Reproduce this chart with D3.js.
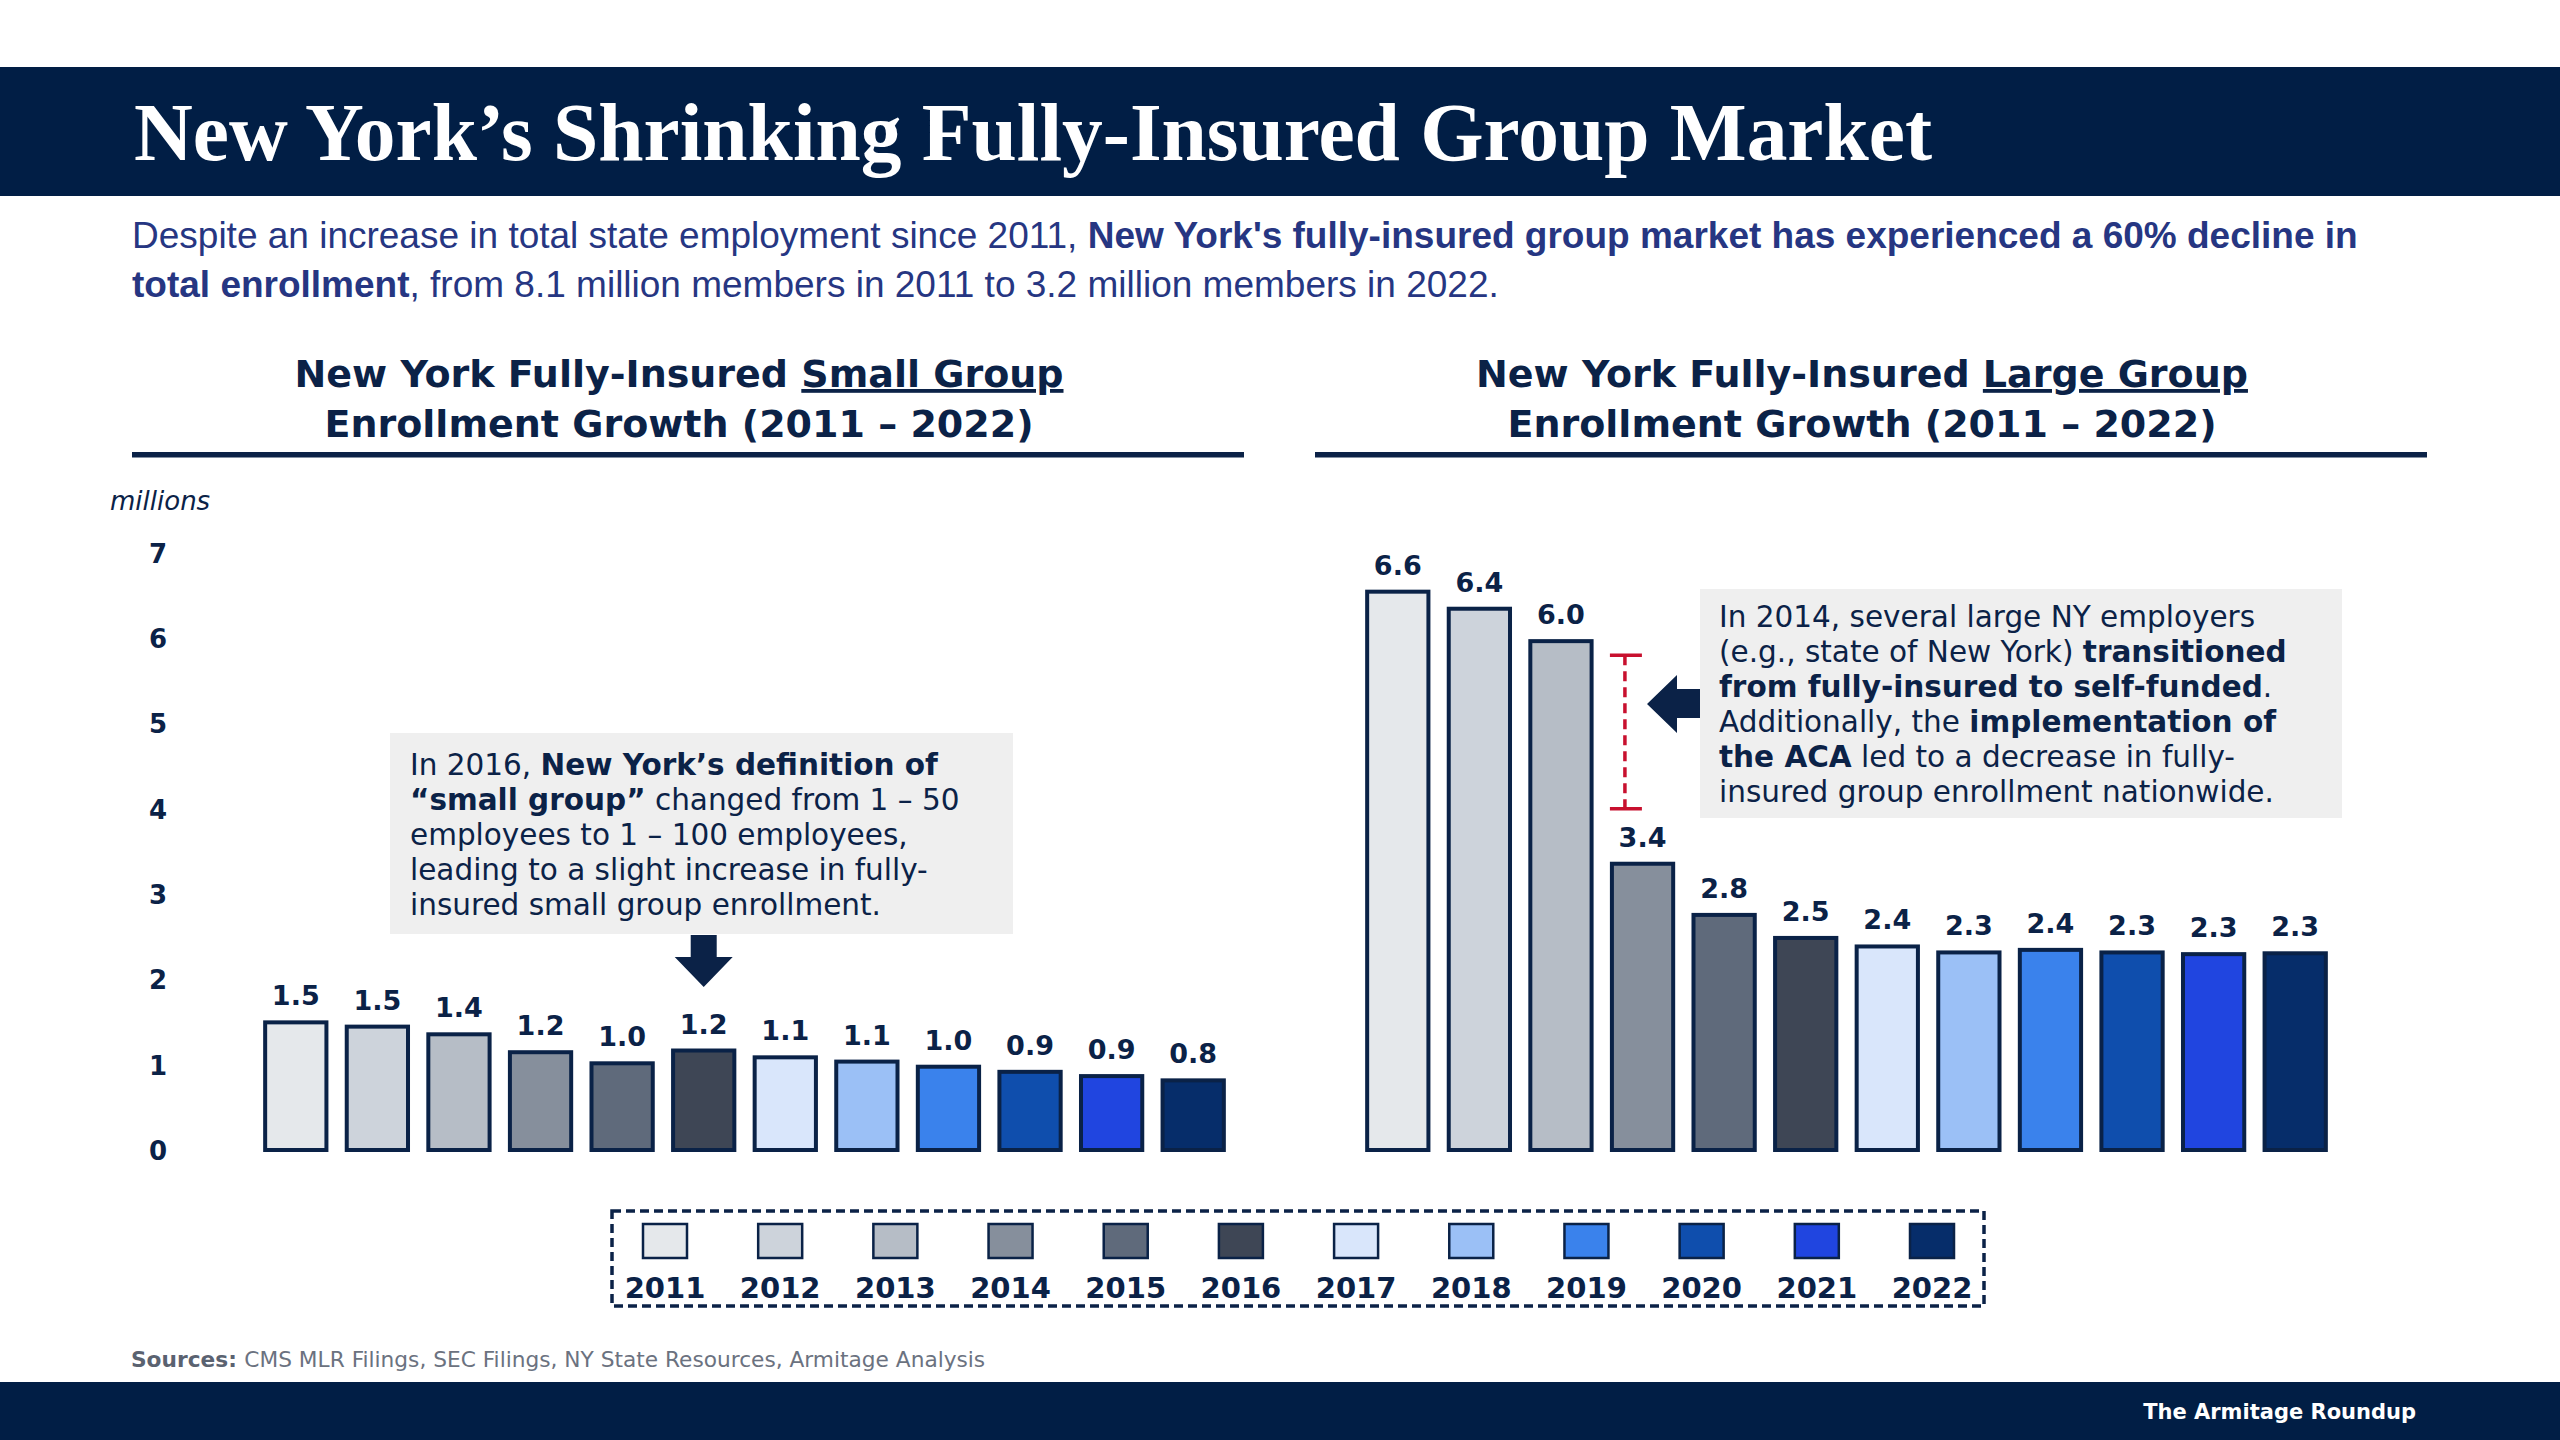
<!DOCTYPE html>
<html>
<head>
<meta charset="utf-8">
<script src="https://cdn.jsdelivr.net/npm/d3@7/dist/d3.min.js"></script>
<style>
  html, body { margin: 0; padding: 0; background: #ffffff; }
  svg { display: block; }
</style>
</head>
<body>
<script>
// ---------- DATA ----------
const years = ["2011","2012","2013","2014","2015","2016","2017","2018","2019","2020","2021","2022"];
const smallGroup = [1.52, 1.47, 1.38, 1.17, 1.04, 1.19, 1.11, 1.06, 1.00, 0.94, 0.89, 0.84];
const largeGroup = [6.57, 6.37, 5.99, 3.38, 2.78, 2.51, 2.41, 2.34, 2.37, 2.34, 2.32, 2.33];
const yTicks = [0, 1, 2, 3, 4, 5, 6, 7];
const palette = ["#e5e8eb","#cdd3db","#b6bdc6","#868f9c","#5f6a7b","#3e4655",
                 "#d9e6fb","#9bc0f6","#3a82ec","#0f4ead","#2045e0","#062d6a"];

const W = 2560, H = 1440;
const NAVY = "#011e45";
const INK = "#0b2247";
const SANS = "'DejaVu Sans', Verdana, sans-serif";

const svg = d3.select("body").append("svg").attr("width", W).attr("height", H)
  .attr("viewBox", `0 0 ${W} ${H}`);

svg.append("rect").attr("width", W).attr("height", H).attr("fill", "#ffffff");

// ---------- HEADER ----------
svg.append("rect").attr("x", 0).attr("y", 67).attr("width", W).attr("height", 129).attr("fill", NAVY);
svg.append("text")
  .attr("x", 134).attr("y", 160)
  .attr("fill", "#ffffff")
  .attr("font-family", "'Liberation Serif', 'DejaVu Serif', serif")
  .attr("font-weight", "bold")
  .attr("font-size", 82)
  .attr("textLength", 1798).attr("lengthAdjust", "spacingAndGlyphs")
  .text("New York’s Shrinking Fully-Insured Group Market");

// subtitle
const subColor = "#263682";
const sub = svg.append("g").attr("font-family", "'Liberation Sans', Arial, sans-serif")
  .attr("font-size", 37).attr("fill", subColor);
const s1 = sub.append("text").attr("x", 132).attr("y", 248);
s1.append("tspan").text("Despite an increase in total state employment since 2011, ");
s1.append("tspan").attr("font-weight", "bold").text("New York's fully-insured group market has experienced a 60% decline in");
const s2 = sub.append("text").attr("x", 132).attr("y", 297);
s2.append("tspan").attr("font-weight", "bold").text("total enrollment");
s2.append("tspan").text(", from 8.1 million members in 2011 to 3.2 million members in 2022.");

// ---------- PANEL HEADINGS ----------
function heading(cx, word, x0, x1) {
  const g = svg.append("g").attr("font-family", SANS).attr("font-weight", "bold")
    .attr("font-size", 38).attr("fill", INK).attr("text-anchor", "middle");
  const t1 = g.append("text").attr("x", cx).attr("y", 387);
  t1.append("tspan").text("New York Fully-Insured ");
  t1.append("tspan").attr("text-decoration", "underline").text(word + " Group");
  g.append("text").attr("x", cx).attr("y", 437).text("Enrollment Growth (2011 – 2022)");
  svg.append("rect").attr("x", x0).attr("y", 452).attr("width", x1 - x0).attr("height", 5.5).attr("fill", INK);
}
heading(679, "Small", 132, 1244);
heading(1862, "Large", 1315, 2427);

// ---------- SCALES ----------
const y = d3.scaleLinear().domain([0, 7]).range([1150, 553]);
const xL = d3.scaleBand().domain(years).range([255, 1234]).paddingInner(0.2).paddingOuter(0.1);
const xR = d3.scaleBand().domain(years).range([1357, 2336]).paddingInner(0.2).paddingOuter(0.1);
const color = d3.scaleOrdinal().domain(years).range(palette);

// y axis
const yAxis = svg.append("g").attr("transform", "translate(167,0)")
  .call(d3.axisLeft(y).tickValues(yTicks).tickSize(0).tickPadding(0).tickFormat(d3.format("d")));
yAxis.select(".domain").remove();
yAxis.selectAll("text").attr("font-family", SANS).attr("font-weight", "bold")
  .attr("font-size", 26).attr("fill", INK).attr("dy", "0.36em");

svg.append("text").attr("x", 110).attr("y", 510)
  .attr("font-family", SANS).attr("font-style", "italic").attr("font-size", 26)
  .attr("fill", INK).text("millions");

// ---------- BARS ----------
function bars(xs, values) {
  const data = years.map((yr, i) => ({ yr, v: values[i] }));
  const g = svg.append("g");
  g.selectAll("rect").data(data).join("rect")
    .attr("x", d => xs(d.yr) + 2)
    .attr("y", d => y(d.v) + 2)
    .attr("width", xs.bandwidth() - 4)
    .attr("height", d => y(0) - y(d.v) - 2)
    .attr("fill", d => color(d.yr))
    .attr("stroke", "#0a2247").attr("stroke-width", 4);
  g.selectAll("text").data(data).join("text")
    .attr("x", d => xs(d.yr) + xs.bandwidth() / 2)
    .attr("y", d => y(d.v) - 15)
    .attr("text-anchor", "middle")
    .attr("font-family", SANS).attr("font-weight", "bold").attr("font-size", 27)
    .attr("fill", INK)
    .text(d => d.v.toFixed(1));
}
bars(xL, smallGroup);
bars(xR, largeGroup);

// ---------- ANNOTATIONS ----------
function note(x, yTop, w, h, lines, tx, ty0) {
  svg.append("rect").attr("x", x).attr("y", yTop).attr("width", w).attr("height", h).attr("fill", "#efefef");
  const g = svg.append("g").attr("font-family", SANS).attr("font-size", 29.5).attr("fill", INK);
  lines.forEach((parts, i) => {
    const t = g.append("text").attr("x", tx).attr("y", ty0 + i * 35);
    parts.forEach(p => {
      const sp = t.append("tspan").text(p[0]);
      if (p[1]) sp.attr("font-weight", "bold");
    });
  });
}
note(390, 733, 623, 201, [
  [["In 2016, ", 0], ["New York’s definition of", 1]],
  [["“small group”", 1], [" changed from 1 – 50", 0]],
  [["employees to 1 – 100 employees,", 0]],
  [["leading to a slight increase in fully-", 0]],
  [["insured small group enrollment.", 0]]
], 410, 775);

note(1700, 589, 642, 229, [
  [["In 2014, several large NY employers", 0]],
  [["(e.g., state of New York) ", 0], ["transitioned", 1]],
  [["from fully-insured to self-funded", 1], [".", 0]],
  [["Additionally, the ", 0], ["implementation of", 1]],
  [["the ACA", 1], [" led to a decrease in fully-", 0]],
  [["insured group enrollment nationwide.", 0]]
], 1719, 627);

// down arrow over 2016 small group bar
const ax = xL("2016") + xL.bandwidth() / 2;
svg.append("path")
  .attr("d", `M${ax - 13},935 L${ax + 13},935 L${ax + 13},957 L${ax + 29},957 L${ax},987 L${ax - 29},957 L${ax - 13},957 Z`)
  .attr("fill", INK);

// left arrow pointing at the 2013 -> 2014 drop
svg.append("path")
  .attr("d", "M1700,689 L1677,689 L1677,675 L1647,704 L1677,733 L1677,718 L1700,718 Z")
  .attr("fill", INK);

// red dashed bracket
const bx0 = xR("2014");
const bx = bx0 + xR.bandwidth() * 0.23;
const red = "#c8102e";
const rb = svg.append("g").attr("stroke", red).attr("stroke-width", 3.5);
rb.append("line").attr("x1", bx).attr("x2", bx).attr("y1", y(5.8)).attr("y2", y(4.0))
  .attr("stroke-dasharray", "10,6");
rb.append("line").attr("x1", bx0).attr("x2", bx0 + 32).attr("y1", y(5.8)).attr("y2", y(5.8));
rb.append("line").attr("x1", bx0).attr("x2", bx0 + 32).attr("y1", y(4.0)).attr("y2", y(4.0));

// ---------- LEGEND ----------
svg.append("rect").attr("x", 612).attr("y", 1211).attr("width", 1372).attr("height", 95)
  .attr("fill", "none").attr("stroke", INK).attr("stroke-width", 3.5).attr("stroke-dasharray", "9,5");
const lx = d3.scalePoint().domain(years).range([665, 1932]);
const lg = svg.append("g");
lg.selectAll("rect").data(years).join("rect")
  .attr("x", d => lx(d) - 22).attr("y", 1224).attr("width", 44).attr("height", 34)
  .attr("fill", d => color(d)).attr("stroke", "#0a2247").attr("stroke-width", 2.5);
lg.selectAll("text").data(years).join("text")
  .attr("x", d => lx(d)).attr("y", 1298).attr("text-anchor", "middle")
  .attr("font-family", SANS).attr("font-weight", "bold").attr("font-size", 29).attr("fill", INK)
  .text(d => d);

// ---------- FOOTER ----------
const src = svg.append("text").attr("x", 131).attr("y", 1367)
  .attr("font-family", SANS).attr("font-size", 21.7).attr("fill", "#6b7280");
src.append("tspan").attr("font-weight", "bold").attr("fill", "#5a6270").text("Sources: ");
src.append("tspan").text("CMS MLR Filings, SEC Filings, NY State Resources, Armitage Analysis");

svg.append("rect").attr("x", 0).attr("y", 1382).attr("width", W).attr("height", H - 1382).attr("fill", NAVY);
svg.append("text").attr("x", 2416).attr("y", 1419).attr("text-anchor", "end")
  .attr("font-family", SANS).attr("font-weight", "bold").attr("font-size", 21).attr("fill", "#ffffff")
  .text("The Armitage Roundup");
</script>
</body>
</html>
